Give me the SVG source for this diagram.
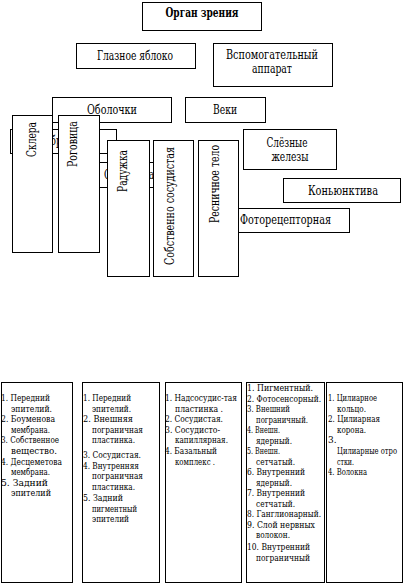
<svg xmlns="http://www.w3.org/2000/svg" width="404" height="584" viewBox="0 0 404 584">
<style>
.b{fill:#fff;stroke:#000;stroke-width:1}
.t{font-family:"DejaVu Serif",serif;font-stretch:condensed;font-size:12px;fill:#000}
.m{text-anchor:middle}
.e{text-anchor:end}
.s{font-family:"DejaVu Serif",serif;font-stretch:condensed;font-size:10px;fill:#000}
</style>
<rect width="404" height="584" fill="#fff"/>
<g id="connectors"/>
<g id="organ"><rect class="b" x="142.5" y="2.5" width="119" height="28"/><text class="t m" x="202" y="17" font-weight="bold" textLength="73" lengthAdjust="spacingAndGlyphs">Орган зрения</text></g>
<g id="glaznoe"><rect class="b" x="76.5" y="43.5" width="119" height="25"/><text class="t m" x="135" y="60" textLength="76" lengthAdjust="spacingAndGlyphs">Глазное яблоко</text></g>
<g id="vspom"><rect class="b" x="213.5" y="43.5" width="119" height="43"/><text class="t m" x="272" y="58.5" textLength="92" lengthAdjust="spacingAndGlyphs">Вспомогательный</text><text class="t m" x="272" y="73" textLength="40" lengthAdjust="spacingAndGlyphs">аппарат</text></g>
<g id="obolochki"><rect class="b" x="52.5" y="97.5" width="119" height="25"/><text class="t m" x="112" y="114" textLength="50" lengthAdjust="spacingAndGlyphs">Оболочки</text></g>
<g id="veki"><rect class="b" x="185.5" y="97.5" width="80" height="25"/><text class="t m" x="225" y="114" textLength="24" lengthAdjust="spacingAndGlyphs">Веки</text></g>
<g id="fibroznaya"><rect class="b" x="10.5" y="129.5" width="106" height="24"/><text class="t m" x="63" y="145" textLength="52" lengthAdjust="spacingAndGlyphs">Фиброзная</text></g>
<g id="sosudistaya"><rect class="b" x="75.5" y="162.5" width="115" height="25"/><text class="t" x="104" y="178.5" textLength="56" lengthAdjust="spacingAndGlyphs">Сосудистая</text></g>
<g id="sklera"><rect class="b" x="12.5" y="115.5" width="40" height="137"/><text class="t e" transform="translate(36,122) rotate(-90)" textLength="35" lengthAdjust="spacingAndGlyphs">Склера</text></g>
<g id="rogovica"><rect class="b" x="58.5" y="115.5" width="41" height="137"/><text class="t e" transform="translate(77,121) rotate(-90)" textLength="46" lengthAdjust="spacingAndGlyphs">Роговица</text></g>
<g id="raduzhka"><rect class="b" x="107.5" y="140.5" width="42" height="136"/><text class="t e" transform="translate(127,150) rotate(-90)" textLength="42" lengthAdjust="spacingAndGlyphs">Радужка</text></g>
<g id="sobstvenno"><rect class="b" x="153.5" y="140.5" width="40" height="136"/><text class="t e" transform="translate(174,147) rotate(-90)" textLength="118" lengthAdjust="spacingAndGlyphs">Собственно сосудистая</text></g>
<g id="fotoreceptornaya"><rect class="b" x="221.5" y="208.5" width="128" height="24"/><text class="t m" x="285.5" y="224" textLength="91" lengthAdjust="spacingAndGlyphs">Фоторецепторная</text></g>
<g id="resnichnoe"><rect class="b" x="198.5" y="140.5" width="40" height="136"/><text class="t e" transform="translate(219,145) rotate(-90)" textLength="78" lengthAdjust="spacingAndGlyphs">Ресничное тело</text></g>
<g id="slyoznye"><rect class="b" x="243.5" y="129.5" width="93" height="40"/><text class="t m" x="287" y="147" textLength="41" lengthAdjust="spacingAndGlyphs">Слёзные</text><text class="t m" x="290" y="161" textLength="37" lengthAdjust="spacingAndGlyphs">железы</text></g>
<g id="konyunktiva"><rect class="b" x="283.5" y="178.5" width="117" height="24"/><text class="t m" x="343" y="195" textLength="70" lengthAdjust="spacingAndGlyphs">Коньюнктива</text></g>
<g id="list1"><rect class="b" x="1.5" y="382.5" width="71" height="200"/>
<text class="s" x="1" y="401" textLength="49" lengthAdjust="spacingAndGlyphs">1. Передний</text>
<text class="s" x="11" y="411.6" textLength="41" lengthAdjust="spacingAndGlyphs">эпителий.</text>
<text class="s" x="1" y="422.2" textLength="54" lengthAdjust="spacingAndGlyphs">2. Боуменова</text>
<text class="s" x="11" y="432.8" textLength="39" lengthAdjust="spacingAndGlyphs">мембрана.</text>
<text class="s" x="1" y="443.4" textLength="58" lengthAdjust="spacingAndGlyphs">3. Собственное</text>
<text class="s" x="11" y="454" textLength="46" lengthAdjust="spacingAndGlyphs">вещество.</text>
<text class="s" x="1" y="464.6" textLength="61" lengthAdjust="spacingAndGlyphs">4. Десцеметова</text>
<text class="s" x="11" y="475.2" textLength="39" lengthAdjust="spacingAndGlyphs">мембрана.</text>
<text class="s" x="1" y="485.8" textLength="47" lengthAdjust="spacingAndGlyphs">5. Задний</text>
<text class="s" x="11" y="496.4" textLength="40" lengthAdjust="spacingAndGlyphs">эпителий</text></g>
<g id="list2"><rect class="b" x="82.5" y="382.5" width="77" height="200"/>
<text class="s" x="83" y="401" textLength="48" lengthAdjust="spacingAndGlyphs">1. Передний</text>
<text class="s" x="92" y="411.6" textLength="39" lengthAdjust="spacingAndGlyphs">эпителий.</text>
<text class="s" x="83" y="422.2" textLength="50" lengthAdjust="spacingAndGlyphs">2. Внешняя</text>
<text class="s" x="92" y="432.8" textLength="51" lengthAdjust="spacingAndGlyphs">пограничная</text>
<text class="s" x="92" y="443.4" textLength="43" lengthAdjust="spacingAndGlyphs">пластинка.</text>
<text class="s" x="83" y="458" textLength="58" lengthAdjust="spacingAndGlyphs">3. Сосудистая.</text>
<text class="s" x="83" y="468.6" textLength="56" lengthAdjust="spacingAndGlyphs">4. Внутренняя</text>
<text class="s" x="92" y="479.2" textLength="51" lengthAdjust="spacingAndGlyphs">пограничная</text>
<text class="s" x="92" y="489.8" textLength="43" lengthAdjust="spacingAndGlyphs">пластинка.</text>
<text class="s" x="83" y="501" textLength="40" lengthAdjust="spacingAndGlyphs">5. Задний</text>
<text class="s" x="92" y="511.6" textLength="45" lengthAdjust="spacingAndGlyphs">пигментный</text>
<text class="s" x="92" y="522.2" textLength="37" lengthAdjust="spacingAndGlyphs">эпителий</text></g>
<g id="list3"><rect class="b" x="165.5" y="382.5" width="76" height="200"/>
<text class="s" x="165" y="401" textLength="72" lengthAdjust="spacingAndGlyphs">1. Надсосудис-тая</text>
<text class="s" x="175" y="411.6" textLength="48" lengthAdjust="spacingAndGlyphs">пластинка .</text>
<text class="s" x="165" y="422.2" textLength="58" lengthAdjust="spacingAndGlyphs">2. Сосудистая.</text>
<text class="s" x="165" y="432.8" textLength="55" lengthAdjust="spacingAndGlyphs">3. Сосудисто-</text>
<text class="s" x="175" y="443.4" textLength="53" lengthAdjust="spacingAndGlyphs">капиллярная.</text>
<text class="s" x="165" y="454" textLength="52" lengthAdjust="spacingAndGlyphs">4. Базальный</text>
<text class="s" x="175" y="464.6" textLength="40" lengthAdjust="spacingAndGlyphs">комплекс .</text></g>
<g id="list4"><rect class="b" x="246.5" y="382.5" width="78" height="200"/>
<text class="s" x="247" y="391" textLength="66" lengthAdjust="spacingAndGlyphs">1. Пигментный.</text>
<text class="s" x="247" y="401.5" textLength="74" lengthAdjust="spacingAndGlyphs">2. Фотосенсорный.</text>
<text class="s" x="247" y="412" textLength="43" lengthAdjust="spacingAndGlyphs">3. Внешний</text>
<text class="s" x="256" y="422.5" textLength="52" lengthAdjust="spacingAndGlyphs">пограничный.</text>
<text class="s" x="247" y="433" textLength="33" lengthAdjust="spacingAndGlyphs">4. Внешн.</text>
<text class="s" x="256" y="443.5" textLength="36" lengthAdjust="spacingAndGlyphs">ядерный.</text>
<text class="s" x="247" y="454" textLength="33" lengthAdjust="spacingAndGlyphs">5. Внешн.</text>
<text class="s" x="256" y="464.5" textLength="39" lengthAdjust="spacingAndGlyphs">сетчатый.</text>
<text class="s" x="247" y="475" textLength="58" lengthAdjust="spacingAndGlyphs">6. Внутренний</text>
<text class="s" x="256" y="485.5" textLength="36" lengthAdjust="spacingAndGlyphs">ядерный.</text>
<text class="s" x="247" y="496" textLength="58" lengthAdjust="spacingAndGlyphs">7. Внутренний</text>
<text class="s" x="256" y="506.5" textLength="39" lengthAdjust="spacingAndGlyphs">сетчатый.</text>
<text class="s" x="247" y="517" textLength="74" lengthAdjust="spacingAndGlyphs">8. Ганглионарный.</text>
<text class="s" x="247" y="527.5" textLength="68" lengthAdjust="spacingAndGlyphs">9. Слой нервных</text>
<text class="s" x="256" y="538" textLength="34" lengthAdjust="spacingAndGlyphs">волокон.</text>
<text class="s" x="247" y="550" textLength="63" lengthAdjust="spacingAndGlyphs">10. Внутренний</text>
<text class="s" x="256" y="560.5" textLength="54" lengthAdjust="spacingAndGlyphs">пограничный</text></g>
<g id="list5"><rect class="b" x="326.5" y="382.5" width="76" height="200"/>
<text class="s" x="328" y="401" textLength="49" lengthAdjust="spacingAndGlyphs">1. Цилиарное</text>
<text class="s" x="337" y="411.5" textLength="29" lengthAdjust="spacingAndGlyphs">кольцо.</text>
<text class="s" x="328" y="422" textLength="52" lengthAdjust="spacingAndGlyphs">2. Цилиарная</text>
<text class="s" x="337" y="432.5" textLength="29" lengthAdjust="spacingAndGlyphs">корона.</text>
<text class="s" x="328" y="443">3.</text>
<text class="s" x="337" y="454" textLength="60" lengthAdjust="spacingAndGlyphs">Цилиарные отро</text>
<text class="s" x="337" y="464.5" textLength="17" lengthAdjust="spacingAndGlyphs">стки.</text>
<text class="s" x="328" y="475" textLength="39" lengthAdjust="spacingAndGlyphs">4. Волокна</text></g>
</svg>
